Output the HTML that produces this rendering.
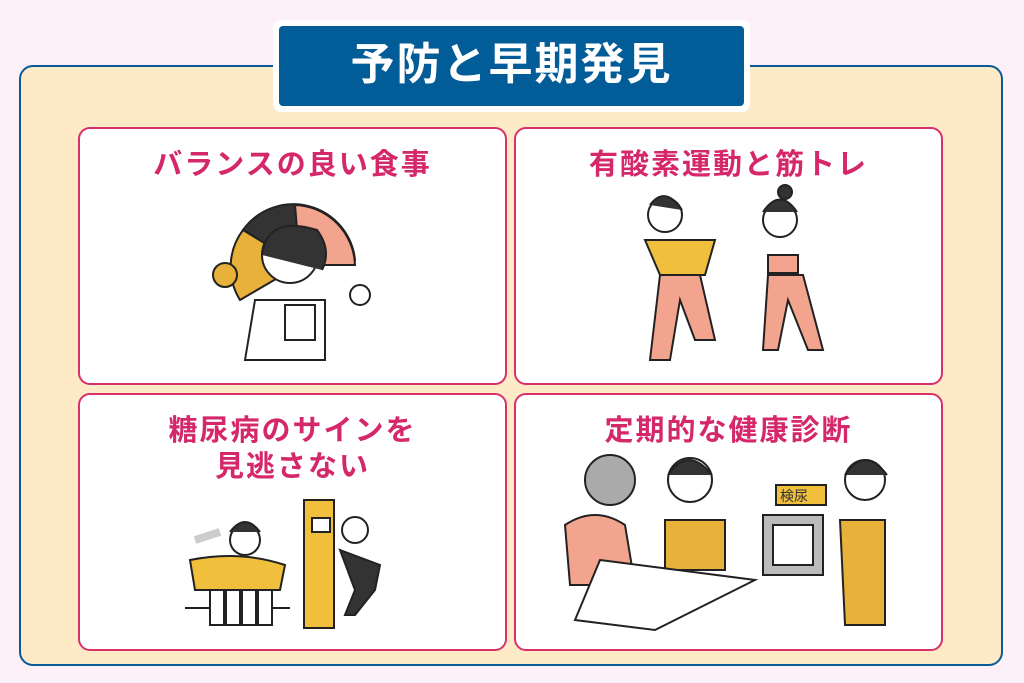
<!DOCTYPE html>
<html><head><meta charset="utf-8"><style>
body{margin:0;width:1024px;height:683px;background:#fdf0f8;position:relative;overflow:hidden;font-family:"Liberation Sans","Noto Sans CJK JP",sans-serif}
.outer{position:absolute;left:19px;top:65px;width:984px;height:601px;background:#feeac7;border:2.5px solid #075b97;border-radius:14px;box-sizing:border-box}
.title{position:absolute;left:273px;top:20px;width:477px;height:92px;background:#fff;border-radius:8px}
.title div{position:absolute;left:6px;top:6px;right:6px;bottom:6px;background:#025c98;border-radius:4px;color:#fff;font-weight:bold;font-size:44px;text-align:center;line-height:78px;letter-spacing:2px}
.card{position:absolute;width:429px;height:258px;background:#fff;border:2.5px solid #d9306a;border-radius:12px;box-sizing:border-box}
.card h{display:block;text-align:center;color:#d5286a;font-weight:bold;font-size:29px;letter-spacing:2px;line-height:36px;margin-top:18px}
svg{position:absolute;left:0;top:0}
</style></head><body>
<div class="outer"></div>
<div class="title"><div>予防と早期発見</div></div>
<div class="card" style="left:78px;top:127px"><h>バランスの良い食事</h></div>
<div class="card" style="left:514px;top:127px"><h>有酸素運動と筋トレ</h></div>
<div class="card" style="left:78px;top:393px"><h>糖尿病のサインを<br>見逃さない</h></div>
<div class="card" style="left:514px;top:393px"><h>定期的な健康診断</h></div>
<svg width="1024" height="683" stroke="#222" stroke-width="2" fill="none">
<!-- card1 -->
<path d="M243 230 A62 62 0 0 1 355 260 L300 265 Z" fill="#333"/>
<path d="M295 205 A62 62 0 0 1 355 265 L300 265 Z" fill="#f2a48e"/>
<path d="M240 300 A62 62 0 0 1 243 230 L300 265 Z" fill="#e8b13a"/>
<circle cx="290" cy="255" r="28" fill="#fff"/>
<path d="M262 255 q5 -40 55 -25 q15 20 5 40" fill="#333"/>
<path d="M255 300 h70 v60 h-80 z" fill="#fff"/>
<rect x="285" y="305" width="30" height="35" fill="#fff"/>
<circle cx="360" cy="295" r="10" fill="#fff"/><circle cx="225" cy="275" r="12" fill="#e8b13a"/>
<!-- card2 -->
<circle cx="665" cy="215" r="17" fill="#fff"/><path d="M650 205 q15 -20 32 5" fill="#333"/>
<path d="M645 240 h70 l-10 35 h-45 z" fill="#f0c03c"/>
<path d="M660 275 l-10 85 h20 l10 -60 l15 40 h20 l-15 -65 z" fill="#f2a48e"/>
<circle cx="780" cy="220" r="17" fill="#fff"/><path d="M763 212 q17 -25 34 0" fill="#333"/><circle cx="785" cy="192" r="7" fill="#333"/>
<rect x="768" y="255" width="30" height="18" fill="#f2a48e"/>
<path d="M768 275 h35 l20 75 h-15 l-20 -50 l-10 50 h-15 z" fill="#f2a48e"/>
<!-- card3 -->
<circle cx="245" cy="540" r="15" fill="#fff"/><path d="M230 532 q15 -20 30 0" fill="#333"/>
<path d="M190 560 q50 -10 95 5 l-5 25 h-85 z" fill="#f0c03c"/>
<path d="M195 540 l25 -8" stroke-width="8" stroke="#ccc"/>
<line x1="185" y1="608" x2="290" y2="608"/>
<g fill="#fff"><rect x="210" y="590" width="14" height="35"/><rect x="226" y="590" width="14" height="35"/><rect x="242" y="590" width="14" height="35"/><rect x="258" y="590" width="14" height="35"/></g>
<rect x="304" y="500" width="30" height="128" fill="#f0c03c"/>
<rect x="312" y="518" width="18" height="14" fill="#fff"/>
<circle cx="355" cy="530" r="13" fill="#fff"/>
<path d="M340 550 l40 15 l-5 25 l-20 25 h-10 l10 -25 z" fill="#333"/>
<!-- card4 -->
<circle cx="610" cy="480" r="25" fill="#aaa"/>
<path d="M565 525 q30 -20 60 0 l10 60 h-65 z" fill="#f2a48e"/>
<circle cx="690" cy="480" r="22" fill="#fff"/><path d="M668 475 q20 -30 44 0" fill="#333"/>
<path d="M665 520 h60 v50 h-60 z" fill="#e8b13a"/>
<path d="M600 560 l155 20 l-100 50 l-80 -10 z" fill="#fff"/>
<rect x="763" y="515" width="60" height="60" fill="#bbb"/><rect x="773" y="525" width="40" height="40" fill="#fff"/>
<rect x="776" y="485" width="50" height="20" fill="#f0c03c"/>
<text x="780" y="501" font-size="14" fill="#333" stroke="none">検尿</text>
<circle cx="865" cy="480" r="20" fill="#fff"/><path d="M845 475 q20 -30 42 0" fill="#333"/>
<path d="M840 520 h45 v105 h-40 z" fill="#e8b13a"/>
</svg>
</body></html>
